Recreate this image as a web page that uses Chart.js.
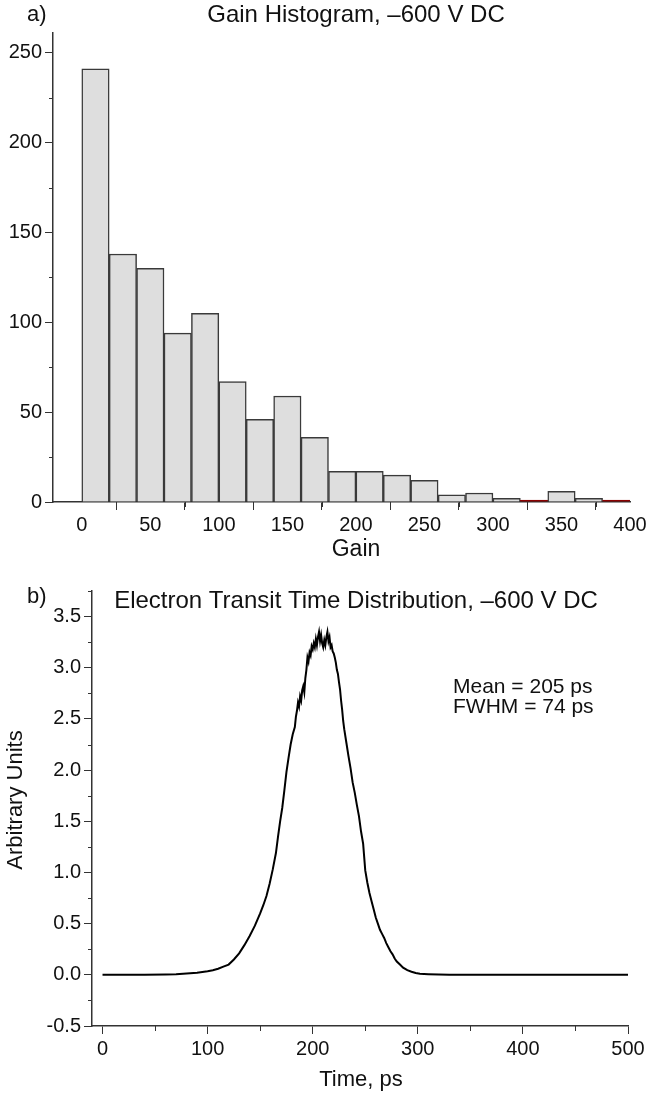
<!DOCTYPE html>
<html>
<head>
<meta charset="utf-8">
<script src="https://cdn.jsdelivr.net/npm/chart.js"></script>
<style>
  html, body { margin: 0; padding: 0; background: #fff; }
  canvas { position: absolute; left: 0; }
  #gainChart { top: 0; }
  #ettChart { top: 560px; }
</style>
</head>
<body>
<canvas id="gainChart" width="654" height="560"></canvas>
<canvas id="ettChart" width="654" height="539"></canvas>
<script>
// ---- panel a) gain histogram ----
const gainBinStart = [0, 20, 40, 60, 80, 100, 120, 140, 160, 180, 200, 220, 240, 260, 280, 300, 320, 340, 360, 380];
const gainCounts = [241, 138, 130, 94, 105, 67, 46, 59, 36, 17, 17, 15, 12, 4, 5, 2, 1, 6, 2, 1];
const gainRedBins = [320, 380]; // these two show up dark red in the original
const gainXTicks = [0, 50, 100, 150, 200, 250, 300, 350, 400];
const gainXMinor = [25, 75, 125, 175, 225, 275, 325, 375];
const gainYTicks = [0, 50, 100, 150, 200, 250];
const gainYMinor = [25, 75, 125, 175, 225];

// ---- panel b) electron transit time ----
const timePs = [
  0, 20, 40, 60, 70, 80, 90, 100, 105, 110, 115, 120,
  125, 130, 135, 140, 145, 150, 153, 156, 159, 162, 165, 167, 169, 171, 173, 175, 177, 179, 181, 183,
  184, 185, 186, 187, 188, 189, 190, 191, 192, 193, 194, 195, 196, 197, 198, 199, 200, 201, 202, 203,
  204, 205, 206, 207, 208, 209, 210, 211, 212, 213, 214, 215, 216, 217, 218, 219, 220, 221, 222, 223, 224, 225, 226, 227, 228, 229,
  230, 232, 234, 236, 238, 240, 242, 244, 246, 248, 250, 252, 254, 256, 258, 260, 262, 264, 266, 268, 270, 272, 274, 276, 278, 280,
  283, 286, 290, 294, 298, 302, 310, 320, 330, 340, 400, 500
];
const arbUnits = [
  0, 0, 0, 0.003, 0.006, 0.012, 0.02, 0.035, 0.045, 0.06, 0.08, 0.1,
  0.15, 0.21, 0.29, 0.38, 0.48, 0.6, 0.68, 0.77, 0.89, 1.03, 1.19, 1.35, 1.5, 1.63, 1.8, 1.98, 2.12, 2.25, 2.35, 2.42,
  2.52, 2.58, 2.66, 2.62, 2.72, 2.68, 2.78, 2.82, 2.76, 2.9, 2.98, 3.1, 3.06, 3.15, 3.12, 3.21, 3.18, 3.24, 3.2, 3.28,
  3.22, 3.3, 3.35, 3.26, 3.32, 3.24, 3.2, 3.27, 3.22, 3.3, 3.35, 3.26, 3.3, 3.2, 3.22, 3.16, 3.14, 3.1, 3.05, 2.98, 2.94, 2.86, 2.79, 2.68, 2.59, 2.48,
  2.4, 2.27, 2.14, 2.02, 1.88, 1.78, 1.66, 1.55, 1.4, 1.28, 1.02, 0.9, 0.8, 0.72, 0.64, 0.56, 0.5, 0.44, 0.4, 0.36, 0.31, 0.27, 0.23, 0.2, 0.16, 0.13,
  0.1, 0.07, 0.045, 0.03, 0.018, 0.01, 0.006, 0.003, 0.001, 0, 0, 0
];
const timeTicks = [0, 100, 200, 300, 400, 500];
const timeMinor = [50, 150, 250, 350, 450];
const unitTicks = [-0.5, 0, 0.5, 1.0, 1.5, 2.0, 2.5, 3.0, 3.5];
const unitMinor = [-0.25, 0.25, 0.75, 1.25, 1.75, 2.25, 2.75, 3.25, 3.75];

const FONT = '"Liberation Sans", Arial, sans-serif';
const AXIS = '#333';
const INK = '#111';

function textPlugin(items) {
  return {
    id: 'figText',
    afterDraw(chart) {
      const ctx = chart.ctx;
      items.forEach(it => {
        ctx.save();
        ctx.font = it.size + 'px ' + FONT;
        ctx.fillStyle = INK;
        ctx.textAlign = it.align || 'center';
        ctx.textBaseline = 'middle';
        ctx.translate(it.x, it.y);
        if (it.rotate) ctx.rotate(it.rotate);
        ctx.fillText(it.text, 0, 0);
        ctx.restore();
      });
    }
  };
}

function minorTicks(xVals, yVals) {
  return {
    id: 'minorTicks',
    afterDraw(chart) {
      const { ctx, scales: { x, y } } = chart;
      ctx.save();
      ctx.strokeStyle = AXIS;
      ctx.lineWidth = 1;
      ctx.beginPath();
      xVals.forEach(v => {
        const px = Math.round(x.getPixelForValue(v)) + 0.5;
        ctx.moveTo(px, x.top);
        ctx.lineTo(px, x.top + 5);
      });
      yVals.forEach(v => {
        const py = Math.round(y.getPixelForValue(v)) + 0.5;
        ctx.moveTo(y.right, py);
        ctx.lineTo(y.right - 4, py);
      });
      ctx.stroke();
      ctx.restore();
    }
  };
}

function axisBase(ticksList, fmt) {
  return {
    grid: { display: true, drawOnChartArea: false, drawTicks: true, tickLength: 8, tickColor: AXIS, tickWidth: 1 },
    border: { display: true, color: AXIS, width: 1.5 },
    ticks: { color: INK, font: { family: FONT, size: 20 }, padding: 3, autoSkip: false, maxRotation: 0, callback: fmt },
    afterBuildTicks: s => { s.ticks = ticksList.map(v => ({ value: v })); }
  };
}

new Chart(document.getElementById('gainChart'), {
  type: 'bar',
  data: {
    datasets: [{
      data: gainBinStart.map((s, i) => ({ x: s + 10, y: gainCounts[i] })),
      backgroundColor: c => gainRedBins.includes(gainBinStart[c.dataIndex]) ? '#8b0000' : '#dedede',
      borderColor: c => gainRedBins.includes(gainBinStart[c.dataIndex]) ? '#8b0000' : '#3a3a3a',
      borderWidth: 1.5,
      categoryPercentage: 1,
      barPercentage: 1
    }]
  },
  options: {
    responsive: false,
    animation: false,
    layout: { padding: { top: 33, right: 24, left: 0, bottom: 0 } },
    plugins: { legend: { display: false }, tooltip: { enabled: false } },
    scales: {
      x: Object.assign(axisBase(gainXTicks, v => String(v)), {
        type: 'linear', min: -21, max: 400, offset: false,
        afterFit: s => { s.height = 58; }
      }),
      y: Object.assign(axisBase(gainYTicks, v => String(v)), {
        type: 'linear', min: 0, max: 261,
        afterFit: s => { s.width = 53; }
      })
    }
  },
  plugins: [
    minorTicks(gainXMinor, gainYMinor),
    textPlugin([
      { text: 'a)', x: 27, y: 15, size: 22, align: 'left' },
      { text: 'Gain Histogram, \u2013600 V DC', x: 356, y: 15, size: 24 },
      { text: 'Gain', x: 356, y: 550, size: 23 }
    ])
  ]
});

new Chart(document.getElementById('ettChart'), {
  type: 'line',
  data: {
    datasets: [{
      data: timePs.map((t, i) => ({ x: t, y: arbUnits[i] })),
      borderColor: '#000',
      borderWidth: 2,
      pointRadius: 0,
      tension: 0,
      fill: false
    }]
  },
  options: {
    responsive: false,
    animation: false,
    layout: { padding: { top: 31, right: 26, left: 0, bottom: 0 } },
    plugins: { legend: { display: false }, tooltip: { enabled: false } },
    scales: {
      x: Object.assign(axisBase(timeTicks, v => String(v)), {
        type: 'linear', min: -10, max: 500,
        afterFit: s => { s.height = 73; }
      }),
      y: Object.assign(axisBase(unitTicks, v => v.toFixed(1)), {
        type: 'linear', min: -0.5, max: 3.75,
        afterFit: s => { s.width = 92; }
      })
    }
  },
  plugins: [
    minorTicks(timeMinor, unitMinor),
    textPlugin([
      { text: 'b)', x: 27, y: 37, size: 22, align: 'left' },
      { text: 'Electron Transit Time Distribution, \u2013600 V DC', x: 356, y: 41, size: 24 },
      { text: 'Mean = 205 ps', x: 453, y: 127, size: 21, align: 'left' },
      { text: 'FWHM = 74 ps', x: 453, y: 147, size: 21, align: 'left' },
      { text: 'Time, ps', x: 361, y: 520, size: 22 },
      { text: 'Arbitrary Units', x: 16, y: 240, size: 22, rotate: -Math.PI / 2 }
    ])
  ]
});
</script>
</body>
</html>
